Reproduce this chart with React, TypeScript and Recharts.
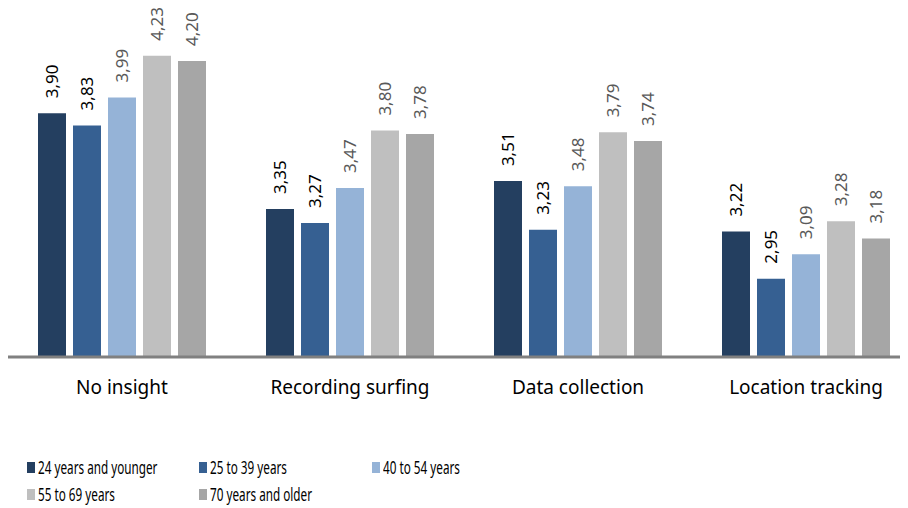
import { Bar, BarChart, LabelList, XAxis, YAxis } from "recharts";

const CATEGORIES = ["No insight", "Recording surfing", "Data collection", "Location tracking"];
const SERIES = ["24 years and younger", "25 to 39 years", "40 to 54 years", "55 to 69 years", "70 years and older"];
const AGE_24 = [3.9, 3.35, 3.51, 3.22];
const AGE_25_39 = [3.83, 3.27, 3.23, 2.95];
const AGE_40_54 = [3.99, 3.47, 3.48, 3.09];
const AGE_55_69 = [4.23, 3.8, 3.79, 3.28];
const AGE_70 = [4.2, 3.78, 3.74, 3.18];

const COLORS = ["#243f60", "#366092", "#95b3d7", "#bfbfbf", "#a6a6a6"];
const LABEL_COLORS = ["#000000", "#000000", "#595959", "#595959", "#595959"];
const FONT = "'Noto Sans', sans-serif";

const VALUES = [AGE_24, AGE_25_39, AGE_40_54, AGE_55_69, AGE_70];
const data = CATEGORIES.map((name, i) => {
  const row: Record<string, string | number> = { name };
  SERIES.forEach((s, k) => (row["s" + k] = VALUES[k][i]));
  return row;
});

const fmt = (v: number) => v.toFixed(2).replace(".", ",");

function makeLabel(color: string) {
  return (props: any) => {
    const { x, y, width, value } = props;
    const cx = x + width / 2;
    const cy = y - 15;
    return (
      <text
        x={cx}
        y={cy}
        transform={`rotate(-90, ${cx}, ${cy})`}
        textAnchor="start"
        dominantBaseline="central"
        fontSize={17}
        fontFamily={FONT}
        fill={color}
      >
        {fmt(value)}
      </text>
    );
  };
}

export default function App() {
  return (
    <div style={{ position: "relative", marginTop: -8, width: 900, height: 508, overflow: "hidden", fontFamily: FONT }}>
      <BarChart
        width={912}
        height={408}
        data={data}
        margin={{ top: 0, right: 0, bottom: 0, left: 0 }}
        barCategoryGap={30}
        barGap={7}
      >
        <XAxis
          dataKey="name"
          axisLine={{ stroke: "#808080", strokeWidth: 3 }}
          tickLine={false}
          tickSize={0}
          tickMargin={24}
          height={51}
          interval={0}
          tick={{ fill: "#000", fontSize: 19, fontFamily: FONT }}
        />
        <YAxis hide domain={[2.5, 4.55]} />
        {SERIES.map((s, k) => (
          <Bar key={s} dataKey={"s" + k} name={s} fill={COLORS[k]} isAnimationActive={false}>
            <LabelList dataKey={"s" + k} content={makeLabel(LABEL_COLORS[k])} />
          </Bar>
        ))}
      </BarChart>
      <div style={{ position: "absolute", top: 457, left: 19, width: 700 }}>
        {SERIES.map((s, k) => (
          <div
            key={s}
            style={{
              position: "absolute",
              left: [0, 172, 345][k % 3],
              top: Math.floor(k / 3) * 27,
              height: 20,
              display: "flex",
              alignItems: "center",
              fontSize: 17.5,
              color: "#000",
              whiteSpace: "nowrap",
            }}
          >
            <span style={{ width: 8, height: 11, background: COLORS[k], marginRight: 3, display: "inline-block" }} />
            <span style={{ display: "inline-block", transform: "scaleX(0.67)", transformOrigin: "left center" }}>{s}</span>
          </div>
        ))}
      </div>
    </div>
  );
}
